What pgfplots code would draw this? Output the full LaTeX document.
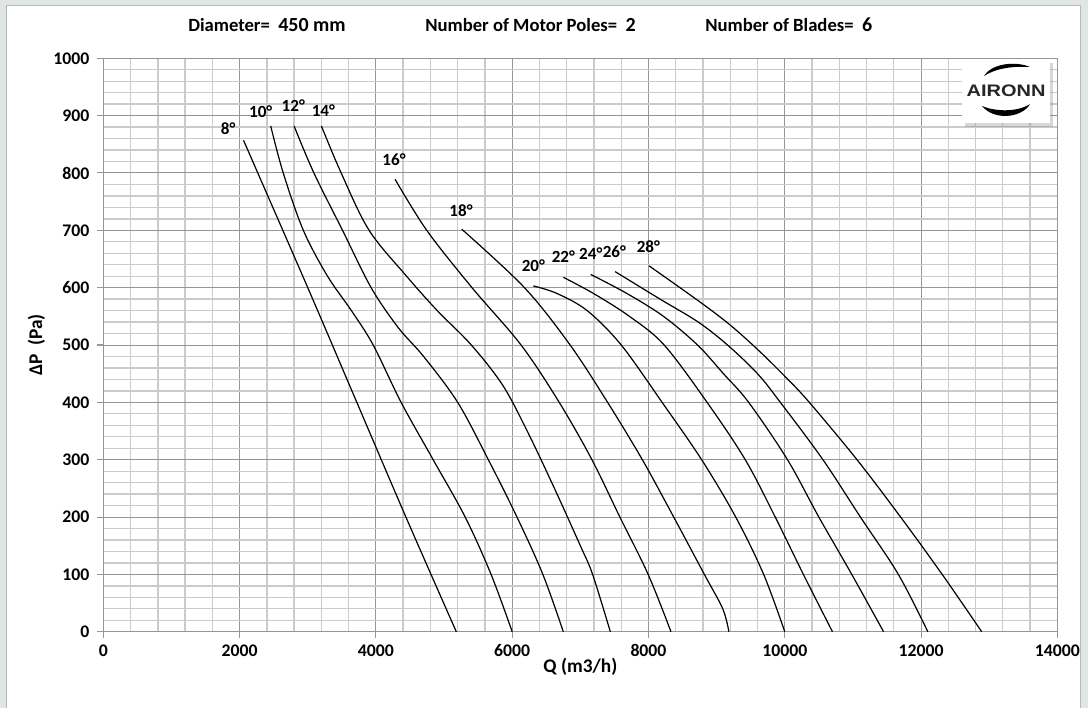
\documentclass[border=0pt]{standalone}
\usepackage{fontspec}
\setmainfont{Carlito}
\usepackage{pgfplots}
\pgfplotsset{compat=1.18}
\usetikzlibrary{shadows}

\definecolor{bgframe}{RGB}{223,230,227}
\definecolor{majgrid}{RGB}{150,150,150}
\definecolor{mingrid}{RGB}{203,203,203}
\pgfplotsset{fanline/.style={black, no markers, solid, line width=0.9pt, smooth, tension=0.55}}

\begin{document}
\begin{tikzpicture}
% page: 1088x708 px at 0.75pt per px
\fill[bgframe] (0pt,0pt) rectangle (816pt,531pt);
\fill[white] (4.5pt,0pt) rectangle (810pt,527pt);
\draw[gray!55, line width=0.5pt] (4.5pt,0pt) -- (4.5pt,527pt) -- (810pt,527pt) -- (810pt,0pt);

\begin{axis}[
  at={(77.5pt,57.2pt)}, anchor=south west,
  scale only axis, width=715.5pt, height=430.1pt,
  xmin=0, xmax=14000, ymin=0, ymax=1000,
  xtick={0,2000,...,14000}, ytick={0,100,...,1000},
  scaled x ticks=false,
  minor x tick num=4, minor y tick num=4,
  grid=both,
  major grid style={majgrid, line width=0.75pt},
  minor grid style={mingrid, line width=1pt},
  axis line style={majgrid, line width=0.8pt},
  tick align=outside, major tick length=4.5pt, minor tick length=0pt,
  tick style={majgrid, line width=0.8pt},
  xtick pos=bottom, ytick pos=left,
  tick label style={font=\bfseries\fontsize{13.3}{15}\selectfont},
  yticklabel style={xshift=-2.5pt},
  xticklabel style={yshift=-1.5pt},
  /pgf/number format/assume math mode=true,
  /pgf/number format/1000 sep={},
  xlabel={Q (m3/h)},
  ylabel={ΔP\ \ (Pa)},
  label style={font=\bfseries\fontsize{14.5}{16}\selectfont},
  xlabel style={at={(axis description cs:0.5,-0.0616)}, anchor=center},
  ylabel style={at={(axis description cs:-0.0702,0.5)}, anchor=center},
  clip=false,
]
% 8 deg
\addplot[fanline] coordinates {(2057,857) (3000,600) (3720,400) (4440,200) (5180,0)};
% 10 deg
\addplot[fanline] coordinates {
 (2456,882) (2640,800) (2935,700) (3290,620) (3640,560) (3960,500) (4370,400)
 (4840,300) (5310,200) (5690,100) (6000,0)};
% 12 deg
\addplot[fanline] coordinates {
 (2799,882) (3090,800) (3510,700) (3930,600) (4330,530) (4700,480) (5200,400)
 (5650,300) (6070,200) (6450,100) (6750,0)};
% 14 deg
\addplot[fanline] coordinates {
 (3200,882) (3490,800) (3900,700) (4450,620) (4900,560) (5400,500) (5860,430)
 (6220,350) (6620,250) (7000,150) (7180,100) (7440,0)};
% 16 deg
\addplot[fanline] coordinates {
 (4281,789) (4746,700) (5410,600) (6130,500) (6690,400) (7170,300) (7580,200)
 (7995,100) (8330,0)};
% 18 deg
\addplot[fanline] coordinates {
 (5259,702) (6180,600) (6850,500) (7400,400) (7910,300) (8370,200) (8820,100)
 (9090,40) (9180,0)};
% 20 deg
\addplot[fanline] coordinates {
 (6311,603) (6654,590) (7100,560) (7600,500) (8200,400) (8780,300) (9280,200)
 (9690,100) (10000,0)};
% 22 deg
\addplot[fanline] coordinates {
 (6751,618) (7191,590) (7720,550) (8230,500) (8860,400) (9420,300) (9860,200)
 (10273,100) (10700,0)};
% 24 deg
\addplot[fanline] coordinates {
 (7153,623) (7681,590) (8220,550) (8720,500) (9100,450) (9470,400) (10040,300)
 (10500,200) (10983,100) (11450,0)};
% 26 deg
\addplot[fanline] coordinates {
 (7510,628) (8170,580) (8730,540) (9160,500) (9600,450) (9935,400) (10560,300)
 (11110,200) (11667,100) (12100,0)};
% 28 deg
\addplot[fanline] coordinates {
 (8009,638) (8756,575) (9197,535) (9612,491) (10030,442) (10360,400) (11060,300)
 (11700,200) (12310,100) (12890,0)};

\begin{scope}[every node/.style={font=\bfseries\fontsize{12.8}{14}\selectfont}]
\node at (axis cs:1833,877) {8°};
\node at (axis cs:2310,907) {10°};
\node at (axis cs:2788,917) {12°};
\node at (axis cs:3229,908) {14°};
\node at (axis cs:4266,824) {16°};
\node at (axis cs:5249,735) {18°};
\node at (axis cs:6311,639) {20°};
\node at (axis cs:6751,654) {22°};
\node at (axis cs:7153,659) {24°};
\node at (axis cs:7499,663) {26°};
\node at (axis cs:7999,672) {28°};
\end{scope}
\end{axis}

% header and logo, in pixel units (origin top left)
\begin{scope}[x=0.75pt, y=-0.75pt, yshift=531pt]
\begin{scope}[every node/.style={font=\bfseries\fontsize{14}{16}\selectfont, inner sep=0pt}]
\node[anchor=base west] at (188,32) {Diameter=\hspace{0.45em}{\fontsize{15}{16}\selectfont 450 mm}};
\node[anchor=base west] at (425,32) {Number of Motor Poles=\hspace{0.45em}{\fontsize{15}{16}\selectfont 2}};
\node[anchor=base west] at (705,32) {Number of Blades=\hspace{0.45em}{\fontsize{15}{16}\selectfont 6}};
\end{scope}
\fill[white, drop shadow={shadow xshift=2.5pt, shadow yshift=-3pt, opacity=0.3}] (962,59) rectangle (1050,123);
\node[font=\fontspec{Liberation Sans}\bfseries\fontsize{12.5}{13}\selectfont, text=black!85, xscale=1.2] at (1006,91) {AIRONN};
\fill[black] (984,76) .. controls (992,63) and (1016,61) .. (1030,67)
  .. controls (1014,66) and (996,68) .. cycle;
\fill[black] (982,106) .. controls (996,112) and (1018,112) .. (1030,104)
  .. controls (1022,118) and (994,121) .. cycle;
\end{scope}
\end{tikzpicture}
\end{document}
